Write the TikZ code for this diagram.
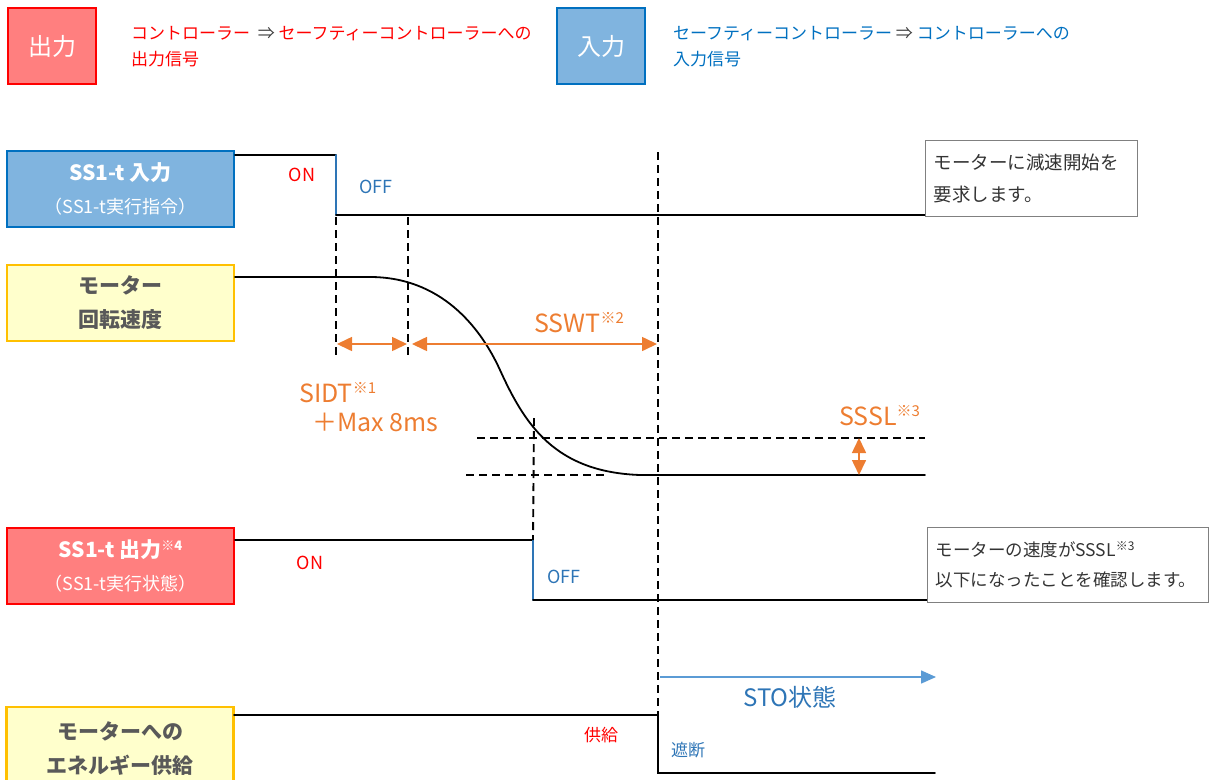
\documentclass[tikz,border=0pt]{standalone}
\usepackage{fontspec}
\setmainfont{Noto Sans CJK JP}
\usetikzlibrary{arrows.meta}
\definecolor{ored}{HTML}{FF0000}
\definecolor{redfill}{HTML}{FF7F7F}
\definecolor{bluefill}{HTML}{80B4DF}
\definecolor{blueline}{HTML}{0070C0}
\definecolor{yelfill}{HTML}{FFFFCC}
\definecolor{yelline}{HTML}{FFC000}
\definecolor{orng}{HTML}{ED7D31}
\definecolor{sigblue}{HTML}{2E75B6}
\definecolor{stoblue}{HTML}{5B9BD5}
\definecolor{txtgray}{HTML}{595959}
\newcommand{\komeno}[2]{\raisebox{#2}{\fontsize{#1}{#1}\selectfont ※}}
\tikzset{
  sigbox/.style={minimum width=227pt, minimum height=76pt, line width=2.5pt, align=center, inner sep=0pt},
  legbox/.style={minimum width=88pt, minimum height=76pt, line width=2.5pt, inner sep=0pt, text=white, font=\fontsize{24}{24}\selectfont},
  legtext/.style={anchor=west, align=left, inner sep=0pt, font=\fontsize{17}{26}\selectfont},
  sig/.style={line width=1.8pt, line cap=round},
  dsh/.style={line width=1.9pt, dash pattern=on 8pt off 5pt},
  oarr/.style={orng, line width=1.6pt, {Triangle[length=15pt,width=14pt]}-{Triangle[length=15pt,width=14pt]}},
  notebox/.style={draw=gray, line width=1.2pt, anchor=north west, align=left, inner xsep=8pt, inner ysep=0pt, text=black!80},
  state/.style={inner sep=0pt, font=\fontsize{18}{18}\selectfont},
  olabel/.style={inner sep=0pt, text=orng, font=\fontsize{25}{30}\selectfont},
}
\begin{document}
\begin{tikzpicture}[x=1pt,y=-1pt]
\useasboundingbox (0,0) rectangle (1214,779);
% legend
\node[legbox, draw=ored, fill=redfill] (legout) at (52,46) {出力};
\node[legtext, text=ored] (legouttxt) at (131,47) {コントローラー\ \ {\color{black!75}⇒} セーフティーコントローラーへの\\出力信号};
\node[legbox, draw=blueline, fill=bluefill] (legin) at (601,46) {入力};
\node[legtext, text=blueline] (legintxt) at (673,47) {セーフティーコントローラー {\color{black!75}⇒} コントローラーへの\\入力信号};

% signal boxes
\node[sigbox, draw=blueline, fill=bluefill, text=white, font=\fontsize{18}{33}\selectfont] (in1) at (120.5,189) {{\bfseries\fontsize{21}{33}\selectfont SS1-t 入力}\\（SS1-t実行指令）};
\node[sigbox, draw=yelline, fill=yelfill, text=txtgray, font=\bfseries\fontsize{21}{34}\selectfont] (spd) at (120.5,303) {モーター\\回転速度};
\node[sigbox, draw=ored, fill=redfill, text=white, font=\fontsize{18}{33}\selectfont] (out1) at (120.5,566) {{\bfseries\fontsize{21}{33}\selectfont SS1-t 出力\komeno{13}{7pt}\fontsize{13}{13}\selectfont\raisebox{7pt}{4}}\\（SS1-t実行状態）};
\begin{scope}
\clip (0,0) rectangle (1214,779);
\node[sigbox, draw=yelline, fill=yelfill, text=txtgray, minimum height=83pt, font=\bfseries\fontsize{21}{34}\selectfont] (energy) at (120,748.5) {モーターへの\\エネルギー供給};
\end{scope}

% coordinates
\coordinate (a0) at (235,155);
\coordinate (a1) at (336,155);
\coordinate (a2) at (336,215);
\coordinate (a3) at (925,215);
\coordinate (b0) at (235,277);
\coordinate (b1) at (370,277);
\coordinate (b2) at (500,370);
\coordinate (b3) at (640,475);
\coordinate (b4) at (925,475);
\coordinate (c0) at (235,540);
\coordinate (c1) at (533,540);
\coordinate (c2) at (533,600);
\coordinate (c3) at (927,600);
\coordinate (d0) at (234,715);
\coordinate (d1) at (658,715);
\coordinate (d2) at (658,773);
\coordinate (d3) at (935,773);

% signals
\draw[sig] (a0) -- (a1);
\draw[sig, sigblue] (a1) -- (a2);
\draw[sig] (a2) -- (a3);
\draw[sig] (b0) -- (b1) .. controls (440,277) and (480,326) .. (b2) .. controls (525,425) and (555,472) .. (b3) -- (b4);
\draw[sig] (c0) -- (c1);
\draw[sig, sigblue] (c1) -- (c2);
\draw[sig] (c2) -- (c3);
\draw[sig] (d0) -- (d1) -- (d2) -- (d3);

% dashed guides
\coordinate (g1t) at (336,217); \coordinate (g1b) at (336,356);
\coordinate (g2t) at (408,217); \coordinate (g2b) at (408,356);
\coordinate (g3t) at (658,152);
\coordinate (g4t) at (534,418);
\coordinate (h1l) at (477,438); \coordinate (h1r) at (925,438);
\coordinate (h2l) at (466,475); \coordinate (h2r) at (608,475);
\draw[dsh] (g1t) -- (g1b);
\draw[dsh] (g2t) -- (g2b);
\draw[dsh] (g3t) -- (d1);
\draw[dsh] (g4t) -- (c1);
\draw[dsh] (h1l) -- (h1r);
\draw[dsh] (h2l) -- (h2r);

% orange arrows
\coordinate (o1) at (337,344); \coordinate (o2) at (407,344);
\coordinate (o3) at (412,344); \coordinate (o4) at (657,344);
\coordinate (o5) at (859,438); \coordinate (o6) at (859,475);
\draw[oarr] (o1) -- (o2);
\draw[oarr] (o3) -- (o4);
\draw[oarr] (o5) -- (o6);

% orange labels
\node[olabel, anchor=west] (sswt) at (534,323) {SSWT\komeno{15}{9pt}\raisebox{9pt}{\fontsize{15}{15}\selectfont 2}};
\node[olabel, anchor=west] (sidt) at (299,393) {SIDT\komeno{15}{9pt}\raisebox{9pt}{\fontsize{15}{15}\selectfont 1}};
\node[olabel, anchor=west] (max8) at (312,422) {＋Max 8ms};
\node[olabel, anchor=west] (sssl) at (839,416) {SSSL\komeno{15}{9pt}\raisebox{9pt}{\fontsize{15}{15}\selectfont 3}};

% states
\node[state, text=ored] (on1) at (302,175) {ON};
\node[state, text=sigblue] (off1) at (376,187) {OFF};
\node[state, text=ored] (on2) at (310,563) {ON};
\node[state, text=sigblue] (off2) at (564,577) {OFF};
\node[state, text=ored, font=\fontsize{17}{17}\selectfont] (supply) at (601,735) {供給};
\node[state, text=sigblue, font=\fontsize{17}{17}\selectfont] (cut) at (688,750) {遮断};

% STO
\coordinate (s0) at (660,677); \coordinate (s1) at (936,677);
\draw[stoblue, line width=1.5pt, -{Triangle[length=15pt,width=13pt]}] (s0) -- (s1);
\node[inner sep=0pt, text=sigblue, font=\fontsize{24}{24}\selectfont] (sto) at (790,697) {STO状態};

% notes
\node[notebox, minimum width=212pt, minimum height=76pt, text width=196pt, font=\fontsize{18.5}{32}\selectfont] (note1) at (925,140) {モーターに減速開始を\\要求します。};
\node[notebox, minimum width=281pt, minimum height=75pt, text width=265pt, font=\fontsize{17.5}{30}\selectfont] (note2) at (927,527) {モーターの速度がSSSL\komeno{12}{6pt}\raisebox{6pt}{\fontsize{12}{12}\selectfont 3}\\以下になったことを確認します。};
\end{tikzpicture}
\end{document}
